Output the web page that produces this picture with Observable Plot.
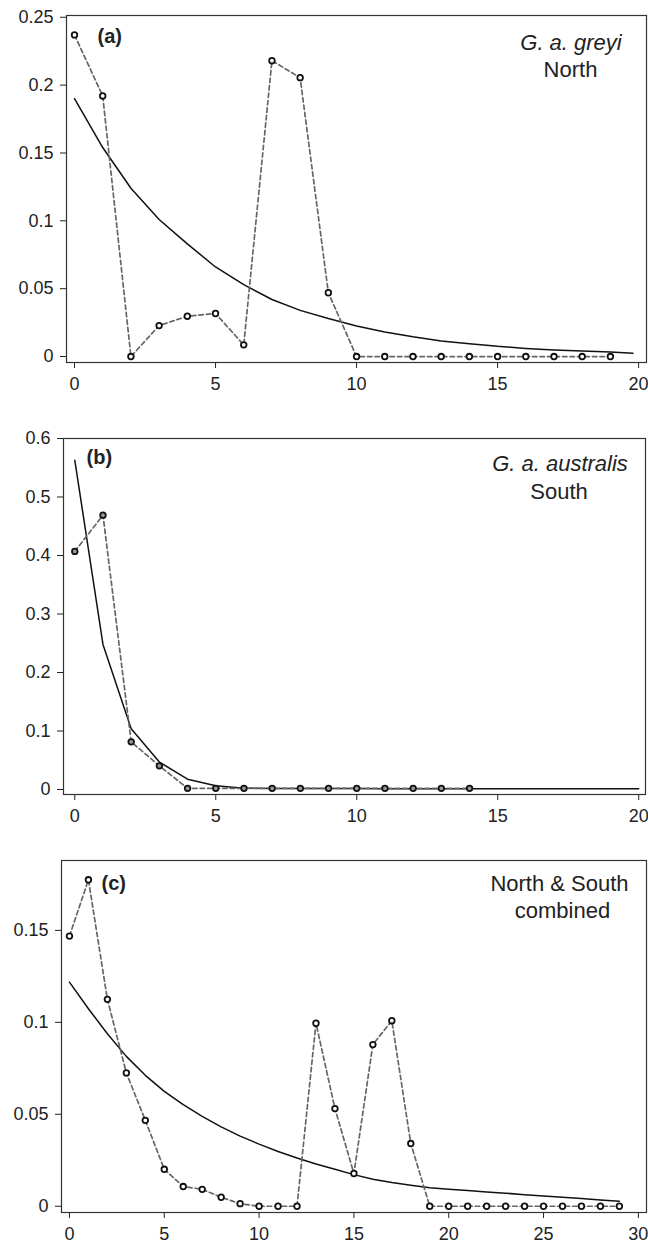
<!DOCTYPE html>
<html><head><meta charset="utf-8">
<script src="https://cdn.jsdelivr.net/npm/d3@7"></script>
<script src="https://cdn.jsdelivr.net/npm/@observablehq/plot@0.6"></script>
<style>
body{margin:0;background:#fff;}
#chart > div, #chart svg{display:block;}
</style></head><body><div id="chart"></div>
<script>
// ---- Panel (a): G. a. greyi, North ----
const obsXA = [0,1,2,3,4,5,6,7,8,9,10,11,12,13,14,15,16,17,18,19];
const obsA  = [0.237,0.192,0,0.0228,0.0297,0.0317,0.0086,0.218,0.2055,0.047,0,0,0,0,0,0,0,0,0,0];
const fitXA = [0,1,2,3,4,5,6,7,8,9,10,11,12,13,14,15,16,17,18,19,19.8];
const fitA  = [0.190,0.154,0.124,0.101,0.083,0.066,0.053,0.042,0.034,0.028,0.0225,0.018,0.0145,0.0115,0.0095,0.0075,0.006,0.0048,0.004,0.0033,0.0025];
const xTicksA = [0,5,10,15,20];
const yTicksA = [0,0.05,0.1,0.15,0.2,0.25];

// ---- Panel (b): G. a. australis, South ----
const obsXB = [0,1,2,3,4,5,6,7,8,9,10,11,12,13,14];
const obsB  = [0.407,0.469,0.0815,0.0405,0.002,0.002,0.002,0.002,0.002,0.002,0.002,0.002,0.002,0.002,0.002];
const fitXB = [0,1,2,3,4,5,6,7,8,9,10,11,12,13,14,15,16,17,18,19,20];
const fitB  = [0.563,0.248,0.104,0.047,0.0177,0.0063,0.0023,0.0018,0.0017,0.0016,0.0016,0.0015,0.0015,0.0015,0.0015,0.0015,0.0015,0.0015,0.0015,0.0015,0.0015];
const xTicksB = [0,5,10,15,20];
const yTicksB = [0,0.1,0.2,0.3,0.4,0.5,0.6];

// ---- Panel (c): North & South combined ----
const obsXC = [0,1,2,3,4,5,6,7,8,9,10,11,12,13,14,15,16,17,18,19,20,21,22,23,24,25,26,27,28,29];
const obsC  = [0.1469,0.1775,0.1125,0.0725,0.0467,0.0201,0.0107,0.0092,0.0049,0.0014,0,0,0,0.0995,0.0531,0.0178,0.0879,0.1009,0.0341,0,0,0,0,0,0,0,0,0,0,0];
const fitXC = [0,1,2,3,4,5,6,7,8,9,10,11,12,13,14,15,16,17,18,19,20,21,22,23,24,25,26,27,28,29];
const fitC  = [0.1219,0.1074,0.0938,0.0815,0.0712,0.0625,0.0552,0.0489,0.0432,0.0381,0.0338,0.0298,0.0262,0.0230,0.0201,0.0172,0.0147,0.0129,0.0114,0.0101,0.0092,0.0085,0.0078,0.0071,0.0063,0.0056,0.0049,0.0042,0.0034,0.0027];
const xTicksC = [0,5,10,15,20,25,30];
const yTicksC = [0,0.05,0.1,0.15];

const tags = ["(a)", "(b)", "(c)"];
const labels1 = ["G. a. greyi", "G. a. australis", "North & South"];
const labels2 = ["North", "South", "combined"];

const FONT = "'Liberation Sans', Arial, Helvetica, sans-serif";

function panel(p) {
  const obs = p.obsX.map((x, i) => ({x, y: p.obsY[i]}));
  const fit = p.fitX.map((x, i) => ({x, y: p.fitY[i]}));
  return Plot.plot({
    width: 648, height: p.height,
    marginTop: p.mt, marginBottom: p.mb, marginLeft: p.ml, marginRight: p.mr,
    style: {fontFamily: FONT, fontSize: "18px", color: "#222", background: "#fff", overflow: "visible"},
    x: {domain: p.xDomain},
    y: {domain: p.yDomain},
    marks: [
      Plot.axisX(p.xTicks, {tickSize: 6, tickPadding: 9, fontSize: 18, color: "#222", tickFormat: d => String(d), label: null}),
      Plot.axisY(p.yTicks, {tickSize: 6, tickPadding: 7, fontSize: 18, color: "#222", tickFormat: d => String(d), label: null}),
      Plot.line(fit, {x: "x", y: "y", stroke: "#111", strokeWidth: 1.5}),
      Plot.line(obs, {x: "x", y: "y", stroke: "#666", strokeWidth: 1.7, strokeDasharray: "4.5,3"}),
      Plot.dot(obs, {x: "x", y: "y", r: 2.8, stroke: "#111", strokeWidth: 1.8, fill: p.dotFill}),
      Plot.frame({stroke: "#333", strokeWidth: 1.2}),
      Plot.text([p.tag], {text: d => d, frameAnchor: "top-left", dx: p.tagDx, dy: p.tagDy, textAnchor: "start", lineAnchor: "middle", fontWeight: "bold", fontSize: 20, fill: "#222"}),
      Plot.text([p.l1], {text: d => d, frameAnchor: "top-right", dx: p.l1Dx, dy: p.l1Dy, textAnchor: "middle", lineAnchor: "middle", fontStyle: p.italic ? "italic" : "normal", fontSize: 22, fill: "#222"}),
      Plot.text([p.l2], {text: d => d, frameAnchor: "top-right", dx: p.l2Dx, dy: p.l2Dy, textAnchor: "middle", lineAnchor: "middle", fontSize: 22, fill: "#222"})
    ]
  });
}

const chart = document.getElementById("chart");
chart.append(panel({
  height: 410, mt: 15, mb: 48, ml: 66, mr: 2,
  xDomain: [-0.284, 20.28], yDomain: [-0.0044, 0.2513],
  xTicks: xTicksA, yTicks: yTicksA,
  obsX: obsXA, obsY: obsA, fitX: fitXA, fitY: fitA, dotFill: "#fff",
  tag: tags[0], tagDx: 31, tagDy: 21,
  l1: labels1[0], italic: true, l1Dx: -75.5, l1Dy: 27.3,
  l2: labels2[0], l2Dx: -76, l2Dy: 54.7
}));
chart.append(panel({
  height: 420, mt: 28, mb: 36, ml: 63, mr: 3,
  xDomain: [-0.4, 20.24], yDomain: [-0.0085, 0.6],
  xTicks: xTicksB, yTicks: yTicksB,
  obsX: obsXB, obsY: obsB, fitX: fitXB, fitY: fitB, dotFill: "#999",
  tag: tags[1], tagDx: 23, tagDy: 18.6,
  l1: labels1[1], italic: true, l1Dx: -85.5, l1Dy: 25.7,
  l2: labels2[1], l2Dx: -86.4, l2Dy: 53.7
}));
chart.append(panel({
  height: 413, mt: 30, mb: 31, ml: 61, mr: 2,
  xDomain: [-0.42, 30.43], yDomain: [-0.0034, 0.188],
  xTicks: xTicksC, yTicks: yTicksC,
  obsX: obsXC, obsY: obsC, fitX: fitXC, fitY: fitC, dotFill: "#fff",
  tag: tags[2], tagDx: 40, tagDy: 23,
  l1: labels1[2], italic: false, l1Dx: -87, l1Dy: 23,
  l2: labels2[2], l2Dx: -84, l2Dy: 50.7
}));
</script></body></html>
